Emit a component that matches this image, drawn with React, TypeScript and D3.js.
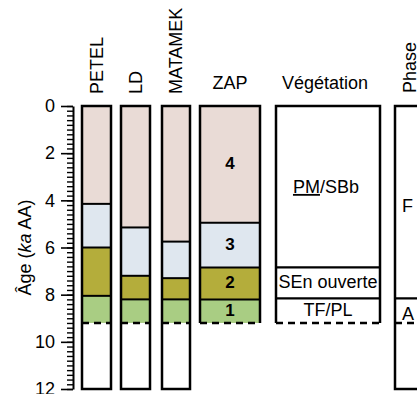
import React, { useEffect, useRef } from 'react'
import * as d3 from 'd3'

const W = 417
const H = 394
const font = "'Liberation Sans', Arial, sans-serif"

// ages (ka AA)
const ageTicks = [0, 2, 4, 6, 8, 10, 12]
const ageMax = 12
const baseAge = 9.2 // dashed line, base of the records

// pollen zones, top to bottom: 4, 3, 2, 1
const zoneColors = ['#e9dbd6', '#dfe7ef', '#b4ad3b', '#a9cd83']
const coreNames = ['PETEL', 'LD', 'MATAMEK']
const petelBounds = [0, 4.15, 6.0, 8.05, 9.2]
const ldBounds = [0, 5.15, 7.2, 8.2, 9.2]
const matamekBounds = [0, 5.75, 7.3, 8.2, 9.2]
const coreBounds = [petelBounds, ldBounds, matamekBounds]

const zapLabels = ['4', '3', '2', '1']
const zapBounds = [0, 4.95, 6.85, 8.2, 9.2]

const vegLabels = ['PM/SBb', 'SEn ouverte', 'TF/PL']
const vegBounds = [0, 6.84, 8.16, 9.2]

const phaseLabels = ['F', 'A']
const phaseBounds = [0, 8.16, 9.2]

// column layout
const coreX = [[82, 111], [121, 150], [162, 190]]
const zapX = [200, 260]
const vegX = [276, 380]
const phaseX = [395, 460]
const axisX = 73

export default function App() {
  const gAxis = useRef<SVGGElement>(null)
  const gMinor = useRef<SVGGElement>(null)

  const y = d3.scaleLinear().domain([0, ageMax]).range([106, 389])

  useEffect(() => {
    const minor = d3.axisLeft(y)
      .tickValues(d3.range(0, 61).map(i => i / 5))
      .tickSize(6)
      .tickSizeOuter(0)
      .tickFormat(() => '')
    d3.select(gMinor.current).call(minor as any)
    d3.select(gMinor.current).select('.domain').remove()
    d3.select(gMinor.current).selectAll('line').attr('stroke-width', 1.4)

    const major = d3.axisLeft(y)
      .tickValues(ageTicks)
      .tickSize(12)
      .tickSizeOuter(0)
      .tickPadding(6)
    const g = d3.select(gAxis.current)
    g.call(major as any)
    g.select('.domain').attr('stroke-width', 2)
    g.selectAll('line').attr('stroke-width', 1.6)
    g.selectAll('text')
      .attr('font-size', 18)
      .attr('font-family', font)
      .attr('fill', '#000')
  }, [])

  const dash = '7,5'

  return (
    <svg width={W} height={H} style={{ position: 'absolute', left: 0, top: 0, background: '#fff' }}
      fontFamily={font}>

      {/* cores */}
      {coreBounds.map((b, ci) => {
        const [x0, x1] = coreX[ci]
        const cx = (x0 + x1) / 2
        return (
          <g key={ci}>
            {b.slice(0, -1).map((a, i) => (
              <rect key={i} x={x0} y={y(a)} width={x1 - x0} height={y(b[i + 1]) - y(a)}
                fill={zoneColors[i]} />
            ))}
            <rect x={x0} y={y(baseAge)} width={x1 - x0} height={y(ageMax) - y(baseAge)} fill='#fff' />
            {b.slice(1, -1).map((a, i) => (
              <line key={i} x1={x0} x2={x1} y1={y(a)} y2={y(a)} stroke='#000' strokeWidth={2} />
            ))}
            <line x1={x0} x2={x1} y1={y(baseAge)} y2={y(baseAge)} stroke='#000'
              strokeWidth={2.5} strokeDasharray={dash} />
            <rect x={x0} y={y(0)} width={x1 - x0} height={y(ageMax) - y(0)}
              fill='none' stroke='#000' strokeWidth={2.5} />
            <text transform={`translate(${cx},94) rotate(-90)`} dy='0.35em' fontSize={18}>
              {coreNames[ci]}
            </text>
          </g>
        )
      })}

      {/* ZAP */}
      <g>
        {zapBounds.slice(0, -1).map((a, i) => (
          <rect key={i} x={zapX[0]} y={y(a)} width={zapX[1] - zapX[0]} height={y(zapBounds[i + 1]) - y(a)}
            fill={zoneColors[i]} />
        ))}
        {zapBounds.slice(1, -1).map((a, i) => (
          <line key={i} x1={zapX[0]} x2={zapX[1]} y1={y(a)} y2={y(a)} stroke='#000' strokeWidth={2} />
        ))}
        {zapLabels.map((l, i) => (
          <text key={l} x={(zapX[0] + zapX[1]) / 2} y={(y(zapBounds[i]) + y(zapBounds[i + 1])) / 2 - 1}
            dy='0.35em' textAnchor='middle' fontSize={17} fontWeight='bold'>{l}</text>
        ))}
        <path d={`M${zapX[0]},${y(baseAge)}V${y(0)}H${zapX[1]}V${y(baseAge)}`}
          fill='none' stroke='#000' strokeWidth={2.5} />
        <line x1={zapX[0]} x2={zapX[1]} y1={y(baseAge)} y2={y(baseAge)} stroke='#000'
          strokeWidth={2.5} strokeDasharray={dash} />
        <text x={(zapX[0] + zapX[1]) / 2} y={89} textAnchor='middle' fontSize={18}>ZAP</text>
      </g>

      {/* Végétation */}
      <g>
        <rect x={vegX[0]} y={y(0)} width={vegX[1] - vegX[0]} height={y(baseAge) - y(0)} fill='#fff' />
        {vegBounds.slice(1, -1).map((a, i) => (
          <line key={i} x1={vegX[0]} x2={vegX[1]} y1={y(a)} y2={y(a)} stroke='#000' strokeWidth={2.2} />
        ))}
        {vegLabels.map((l, i) => {
          const cy = (y(vegBounds[i]) + y(vegBounds[i + 1])) / 2
          const cx = (vegX[0] + vegX[1]) / 2
          if (l === 'PM/SBb') {
            const parts = l.split('/')
            return (
              <text key={l} x={cx - 2} y={cy} dy='0.35em' textAnchor='middle' fontSize={18}>
                <tspan style={{ textDecoration: 'underline' }}>{parts[0]}</tspan>/{parts[1]}
              </text>
            )
          }
          return (
            <text key={l} x={cx} y={cy - 1} dy='0.35em' textAnchor='middle' fontSize={18}>{l}</text>
          )
        })}
        <path d={`M${vegX[0]},${y(baseAge)}V${y(0)}H${vegX[1]}V${y(baseAge)}`}
          fill='none' stroke='#000' strokeWidth={2.5} />
        <line x1={vegX[0]} x2={vegX[1]} y1={y(baseAge)} y2={y(baseAge)} stroke='#000'
          strokeWidth={2.5} strokeDasharray={dash} />
        <text x={(vegX[0] + vegX[1]) / 2 - 3} y={89} textAnchor='middle' fontSize={18}>Végétation</text>
      </g>

      {/* Phase */}
      <g>
        <rect x={phaseX[0]} y={y(0)} width={phaseX[1] - phaseX[0]} height={y(ageMax) - y(0)}
          fill='#fff' stroke='#000' strokeWidth={2.5} />
        {phaseBounds.slice(1, -1).map((a, i) => (
          <line key={i} x1={phaseX[0]} x2={phaseX[1]} y1={y(a)} y2={y(a)} stroke='#000' strokeWidth={2.2} />
        ))}
        <line x1={phaseX[0]} x2={phaseX[1]} y1={y(baseAge)} y2={y(baseAge)} stroke='#000'
          strokeWidth={2.5} strokeDasharray={dash} />
        {phaseLabels.map((l, i) => (
          <text key={l} x={phaseX[0] + 7} y={(y(phaseBounds[i]) + y(phaseBounds[i + 1])) / 2 + 3}
            dy='0.35em' fontSize={18}>{l}</text>
        ))}
        <text transform={`translate(${phaseX[0] + 15},93) rotate(-90)`} dy='0.35em' fontSize={18}>Phase</text>
      </g>

      {/* axis */}
      <g ref={gMinor} transform={`translate(${axisX},0)`} />
      <g ref={gAxis} transform={`translate(${axisX},0)`} />
      <text transform={`translate(25,${y(6)}) rotate(-90)`} dy='0.35em' textAnchor='middle' fontSize={18}>
        Âge (<tspan fontStyle='italic'>ka</tspan> AA)
      </text>
    </svg>
  )
}
